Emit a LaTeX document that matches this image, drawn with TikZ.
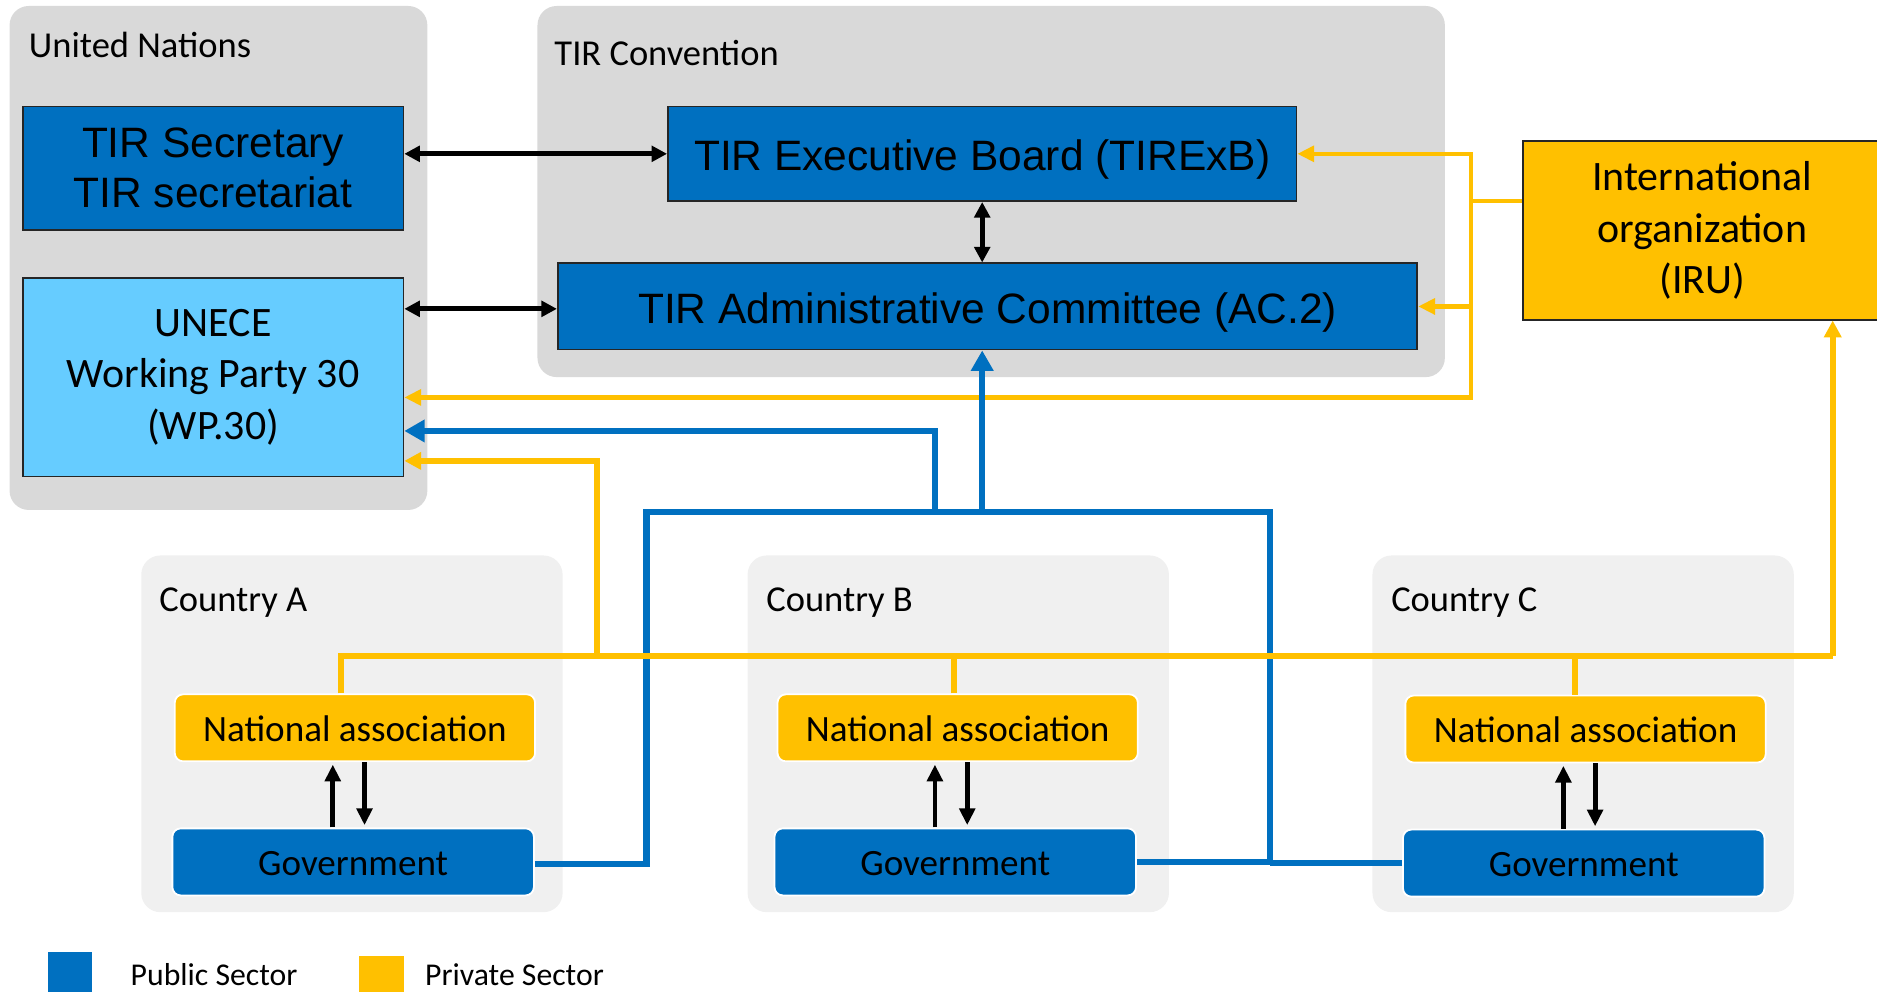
\documentclass[tikz,border=0pt]{standalone}
\usepackage{fontspec}
\setmainfont{Carlito}
\newfontfamily\arialf{Liberation Sans}
\usetikzlibrary{arrows.meta,calc}
\definecolor{pubblue}{HTML}{0070C0}
\definecolor{privyellow}{HTML}{FFC000}
\definecolor{lightblue}{HTML}{66CCFF}
\definecolor{panelgray}{HTML}{D9D9D9}
\definecolor{ctrygray}{HTML}{F0F0F0}
\definecolor{boxedge}{HTML}{262626}
\tikzset{
  panel/.style={fill=panelgray, draw=none, rounded corners=16pt, inner sep=0pt},
  cpanel/.style={fill=ctrygray, draw=none, rounded corners=16pt, inner sep=0pt, minimum width=352pt, minimum height=298pt},
  tirbox/.style={fill=pubblue, draw=boxedge, line width=1.5pt, inner sep=0pt, align=center, font=\arialf\fontsize{35.5}{42}\selectfont},
  tirone/.style={tirbox, text height=28.4pt, text depth=0pt},
  unecebox/.style={fill=lightblue, draw=boxedge, line width=1.5pt, inner sep=0pt, align=center, font=\fontsize{35}{43}\selectfont},
  irubox/.style={fill=privyellow, draw=boxedge, line width=1.5pt, inner sep=0pt, align=center, font=\fontsize{35}{43}\selectfont},
  natbox/.style={fill=privyellow, draw=white, line width=1.5pt, rounded corners=7pt, inner sep=0pt, minimum width=301pt, minimum height=56pt, text height=22.3pt, text depth=0pt, font=\fontsize{31}{37}\selectfont},
  govbox/.style={fill=pubblue, draw=white, line width=1.5pt, rounded corners=7pt, inner sep=0pt, minimum width=302pt, minimum height=56pt, text height=22.3pt, text depth=0pt, font=\fontsize{31}{37}\selectfont},
  lbl/.style={anchor=base west, inner sep=0pt, font=\fontsize{30.5}{36}\selectfont},
  leglbl/.style={anchor=base west, inner sep=0pt, font=\fontsize{26.5}{32}\selectfont},
  blkd/.style={draw=black, line width=4pt, {Triangle[width=13pt,length=13pt]}-{Triangle[width=13pt,length=13pt]}},
  blka/.style={draw=black, line width=4pt, -{Triangle[width=13pt,length=14pt]}, shorten >=2pt},
  yel/.style={draw=privyellow, line width=4.8pt},
  yela/.style={yel, -{Triangle[width=14pt,length=14pt]}},
  yelt/.style={draw=privyellow, line width=3.8pt},
  yelta/.style={yelt, -{Triangle[width=13pt,length=14pt]}},
  blu/.style={draw=pubblue, line width=5.2pt},
  blua/.style={blu, -{Triangle[width=18pt,length=17pt]}},
}
\begin{document}
\begin{tikzpicture}[x=1pt,y=-1pt]
\useasboundingbox (0,0) rectangle (1568,828);

% panels
\node[panel, minimum width=349pt, minimum height=421pt] (un) at (182.5,215.5) {};
\node[panel, minimum width=758pt, minimum height=310pt] (tir) at (828,160) {};
\node[cpanel] (ca) at (294,613) {};
\node[cpanel] (cb) at (800.5,613) {};
\node[cpanel] (cc) at (1322.5,613) {};

\node[lbl] (unl) at (24,48) {United Nations};
\node[lbl] (tirl) at (463,55) {TIR Convention};
\node[lbl] (cal) at (133,511) {Country A};
\node[lbl] (cbl) at (640,511) {Country B};
\node[lbl] (ccl) at (1162,511) {Country C};

% boxes
\node[tirbox, minimum width=318pt, minimum height=103pt] (sec) at (178,140.5) {TIR Secretary\\TIR secretariat};
\node[unecebox, minimum width=318pt, minimum height=166pt] (unece) at (178,315) {\raisebox{-2pt}{UNECE}\\\raisebox{-2pt}{Working Party 30}\\\raisebox{-2pt}{(WP.30)}};
\node[tirone, minimum width=525pt, minimum height=79pt] (exb) at (820.5,128.5) {TIR Executive Board (TIRExB)};
\node[tirone, minimum width=718pt, minimum height=72pt] (ac2) at (825,256) {TIR Administrative Committee (AC.2)};
\node[irubox, minimum width=300pt, minimum height=149pt] (iru) at (1422,192.5) {International\\organization\\(IRU)};

\node[natbox] (natA) at (296.5,608) {National association};
\node[natbox] (natB) at (800,608) {National association};
\node[natbox] (natC) at (1324.5,609) {National association};
\node[govbox] (govA) at (295,720) {Government};
\node[govbox] (govB) at (798,720) {Government};
\node[govbox] (govC) at (1323,721) {Government};

% legend
\node[fill=pubblue, minimum width=37pt, minimum height=36pt, inner sep=0pt, anchor=north west] (lgb) at (40,795) {};
\node[fill=privyellow, minimum width=37pt, minimum height=33pt, inner sep=0pt, anchor=north west] (lgy) at (300,798) {};
\node[leglbl] (lgbt) at (109,823) {Public Sector};
\node[leglbl] (lgyt) at (355,823) {Private Sector};

% black connectors
\draw[blkd] (sec.east |- exb.west) -- (exb.west);
\draw[blkd] ([yshift=-2pt]unece.east |- ac2.west) -- ([yshift=-2pt]ac2.west);
\draw[blkd] (exb.south) -- (exb.south |- ac2.north);

\foreach \c in {A,B,C}{
  \draw[blka] ([xshift=-17pt]gov\c.north) -- ([xshift=-17pt]gov\c.north |- nat\c.south);
  \draw[blka] ([xshift=8pt]nat\c.south) -- ([xshift=8pt]nat\c.south |- gov\c.north);
}

% yellow from IRU
\coordinate (yj) at (1229,168);
\draw[yelt] (iru.west |- yj) -- (yj);
\draw[yelta] (yj) |- (exb.east);
\draw[yelta] (yj) |- (ac2.east);
\draw[yelta] (yj) |- ([yshift=-17pt]unece.east);

% blue network
\coordinate (bA) at (540,428);
\coordinate (bR) at (1061,428);
\draw[blu] ([yshift=-2pt]govA.east) -| (bA) -- (bR) |- (govB.east);
\draw[blu] (govC.west) -- (govC.west -| bR);
\draw[blua] (exb.south |- bA) -- (exb.south |- ac2.south);
\coordinate (bU) at (781,428);
\draw[blua] (bU) |- ([yshift=-45pt]unece.east);

% yellow network
\coordinate (yl) at (285,548);
\coordinate (yr) at (1531,548);
\draw[yel] ([xshift=-11.5pt]natA.north) -- (yl) -- (yr);
\draw[yel] ([xshift=-3pt]natB.north) -- ([xshift=-3pt]natB.north |- yr);
\draw[yel] ([xshift=-8.5pt]natC.north) -- ([xshift=-8.5pt]natC.north |- yr);
\draw[yela] (yr) -- (yr |- iru.south);
\coordinate (yu) at (499,548);
\draw[yela] (yu) |- ([yshift=-70pt]unece.east);
\end{tikzpicture}
\end{document}
